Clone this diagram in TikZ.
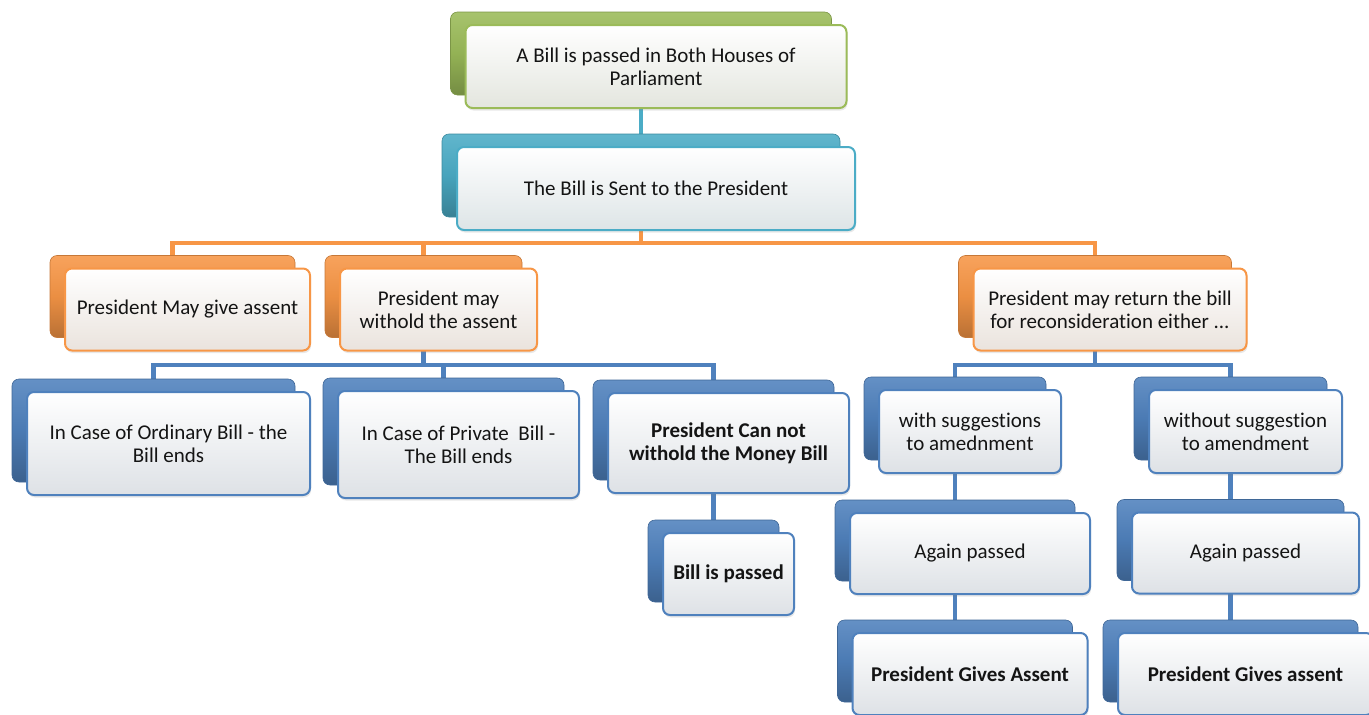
\documentclass[tikz,border=0pt]{standalone}
\usepackage{fontspec}
\setmainfont{Carlito}[Ligatures=NoCommon]
\usetikzlibrary{backgrounds,shadows}

\definecolor{grn}{HTML}{9BBB59}
\definecolor{sky}{HTML}{4BACC6}
\definecolor{orng}{HTML}{F79646}
\definecolor{blu}{HTML}{4F81BD}

\tikzset{
  back/.style={rounded corners=7pt, draw=#1!80!black, line width=0.6pt,
    top color=#1!88!white, bottom color=#1!75!black, middle color=#1!95!black},
  front/.style={rounded corners=7pt, draw=#1, line width=2pt, align=center,
    top color=white, bottom color=#1!8!white!92!black, text=black!92,
    xshift=15pt, yshift=-13pt,
    drop shadow={opacity=0.18, shadow xshift=1pt, shadow yshift=-2.5pt}},
  box/.style 2 args={minimum width=#1, minimum height=#2, inner sep=0pt},
  link/.style={draw=#1, line width=4.5pt},
  every node/.style={font=\fontsize{21}{23}\selectfont},
}

\begin{document}
\begin{tikzpicture}[x=1pt, y=-1pt]
\useasboundingbox (0,0) rectangle (1369,715);

% top two levels
\node[back=grn, box={381}{83}] (parl) at (641,53.5) {};
\node[front=grn, box={381}{83}] (parl-t) at (parl) {A Bill is passed in Both Houses of\\Parliament};
\node[back=sky, box={398}{83}] (sent) at (641,175.5) {};
\node[front=sky, box={398}{83}] (sent-t) at (sent) {The Bill is Sent to the President};

% what the president may do
\node[back=orng, box={245}{82}] (give) at (172.5,296.5) {};
\node[front=orng, box={245}{82}] (give-t) at (give) {President May give assent};
\node[back=orng, box={197}{82}] (withold) at (423.5,296.5) {};
\node[front=orng, box={197}{82}] (withold-t) at (withold) {President may\\withold the assent};
\node[back=orng, box={273}{82}] (return) at (1095,296.5) {};
\node[front=orng, box={273}{82}] (return-t) at (return) {President may return the bill\\for reconsideration either ...};

% withheld
\node[back=blu, box={283}{103}] (ordinary) at (153.5,430.5) {};
\node[front=blu, box={283}{103}] (ordinary-t) at (ordinary) {In Case of Ordinary Bill - the\\Bill ends};
\node[back=blu, box={241}{107}] (private) at (443.5,431.5) {};
\node[front=blu, box={241}{107}] (private-t) at (private) {In Case of Private~ Bill -\\The Bill ends};
\node[back=blu, box={241}{100}] (money) at (713.5,430) {};
\node[front=blu, box={241}{100}] (money-t) at (money) {\bfseries President Can not\\\bfseries withold the Money Bill};
\node[back=blu, box={131}{82}] (passed) at (713.5,561) {};
\node[front=blu, box={131}{82}] (passed-t) at (passed) {\bfseries Bill is passed};

% returned
\node[back=blu, box={182}{83}] (with) at (955,418.5) {};
\node[front=blu, box={182}{83}] (with-t) at (with) {with suggestions\\to amednment};
\node[back=blu, box={193}{83}] (without) at (1230.5,418.5) {};
\node[front=blu, box={193}{83}] (without-t) at (without) {without suggestion\\to amendment};
\node[back=blu, box={240}{81}] (again1) at (955,540.5) {};
\node[front=blu, box={240}{81}] (again1-t) at (again1) {Again passed};
\node[back=blu, box={227}{81}] (again2) at (1230.5,540) {};
\node[front=blu, box={227}{81}] (again2-t) at (again2) {Again passed};
\node[back=blu, box={235}{82}] (assent1) at (955,661) {};
\node[front=blu, box={235}{82}] (assent1-t) at (assent1) {\bfseries President Gives Assent};
\node[back=blu, box={255}{82}] (assent2) at (1230.5,661) {};
\node[front=blu, box={255}{82}] (assent2-t) at (assent2) {\bfseries President Gives assent};

\begin{pgfonlayer}{background}
\draw[link=sky] (parl) -- (sent);
\foreach \c in {give,withold,return}
  \draw[link=orng] (sent) -- ++(0,67.5) -| (\c);
\foreach \c in {ordinary,private,money}
  \draw[link=blu] (withold) -- ++(0,68.5) -| (\c);
\foreach \c in {with,without}
  \draw[link=blu] (return) -- ++(0,68.5) -| (\c);
\draw[link=blu] (money) -- (passed);
\draw[link=blu] (with) -- (again1) -- (assent1);
\draw[link=blu] (without) -- (again2) -- (assent2);
\end{pgfonlayer}
\end{tikzpicture}
\end{document}
